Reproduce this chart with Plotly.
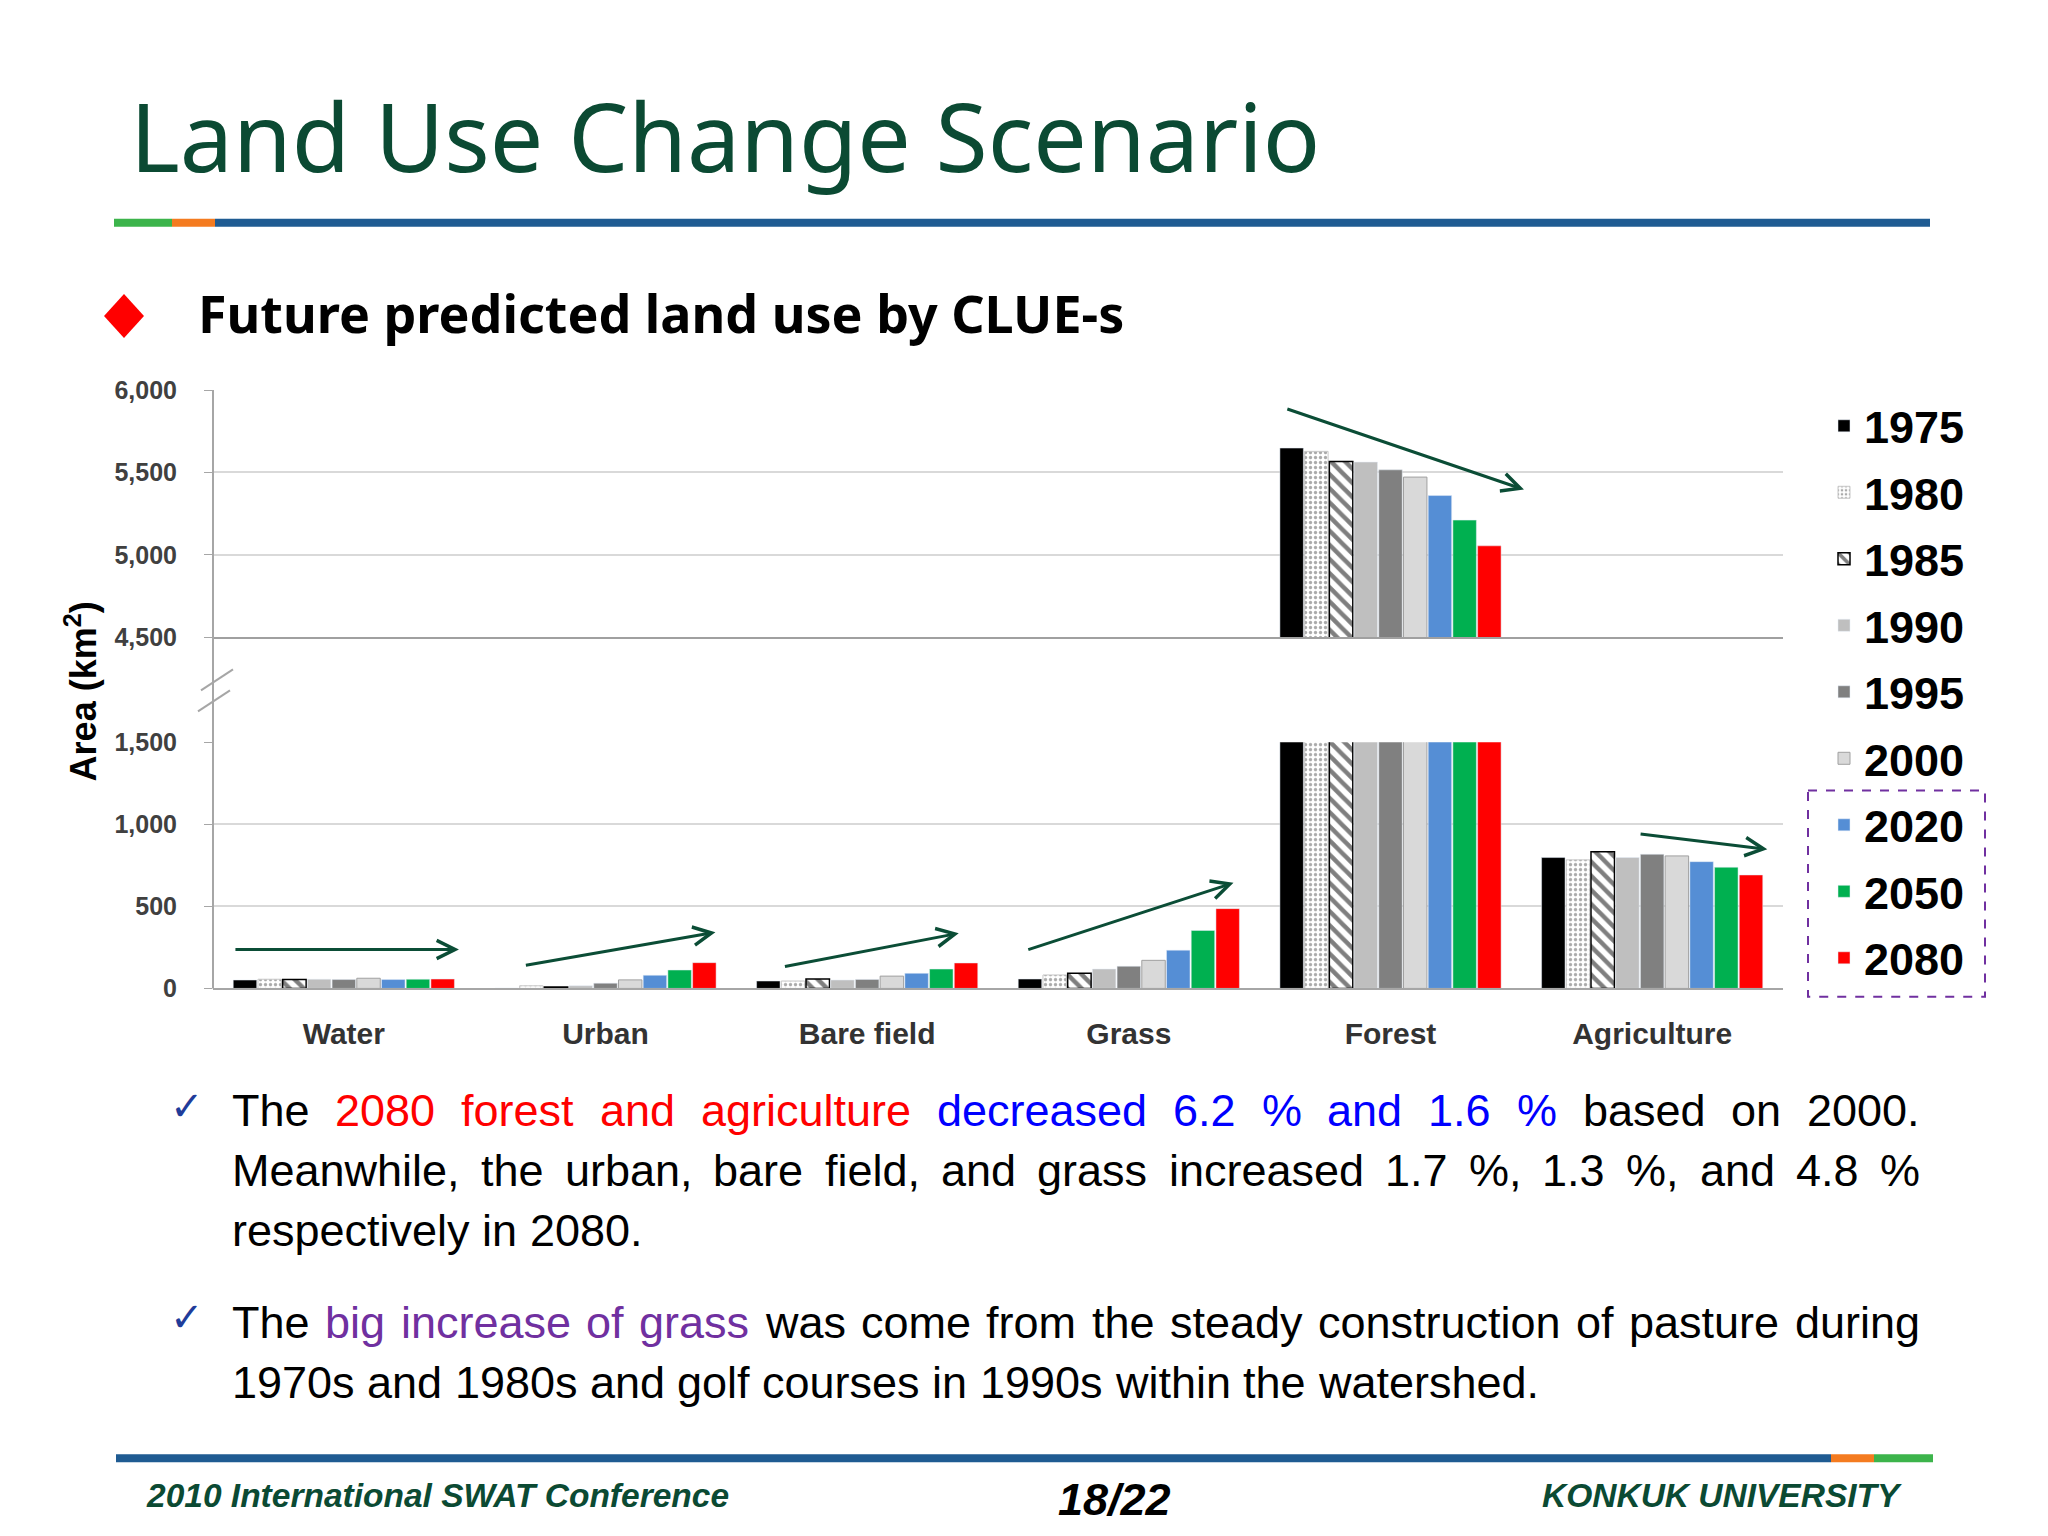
import plotly.graph_objects as go

# ---- data (km2) ----
categories = ["Water", "Urban", "Bare field", "Grass", "Forest", "Agriculture"]
years = ["1975", "1980", "1985", "1990", "1995", "2000", "2020", "2050", "2080"]

area_1975 = [51, 2, 45, 57, 5648, 797]
area_1980 = [56, 16, 45, 82, 5628, 783]
area_1985 = [55, 8, 58, 92, 5567, 833]
area_1990 = [56, 16, 51, 118, 5563, 797]
area_1995 = [54, 32, 55, 135, 5516, 817]
area_2000 = [62, 52, 75, 171, 5472, 807]
area_2020 = [54, 80, 92, 233, 5360, 772]
area_2050 = [56, 112, 118, 353, 5211, 738]
area_2080 = [57, 157, 155, 486, 5055, 691]

lower_ticks = [0, 500, 1000, 1500]
upper_ticks = [4500, 5000, 5500, 6000]

series = [area_1975, area_1980, area_1985, area_1990, area_1995,
          area_2000, area_2020, area_2050, area_2080]

# placement helpers: positions below are given in screenshot pixels,
# corrected for the page offset and the slight vertical squeeze of the shot
LEFT_OFF, TOP_OFF, SQUEEZE = 8, 21.8, 0.9807
W, H = 2032, 1540


def px(x):
    return (x - LEFT_OFF) / W


def py(y):
    return 1 - (y / SQUEEZE - TOP_OFF) / H


styles = {
    "1975": dict(color="#000000"),
    "1980": dict(color="#ffffff", line=dict(color="#c8c8c8", width=1),
                 pattern=dict(shape=".", fgcolor="#555555", bgcolor="#ffffff",
                              size=5, solidity=0.35)),
    "1985": dict(color="#ffffff", line=dict(color="#000000", width=1.5),
                 pattern=dict(shape="\\", fgcolor="#000000", bgcolor="#ffffff", size=10, solidity=0.45)),
    "1990": dict(color="#bfbfbf"),
    "1995": dict(color="#808080"),
    "2000": dict(color="#d9d9d9", line=dict(color="#a0a0a0", width=1)),
    "2020": dict(color="#558ed5"),
    "2050": dict(color="#00b050"),
    "2080": dict(color="#ff0000"),
}

fig = go.Figure()
for yr, vals in zip(years, series):
    # lower part of the broken axis, then the upper part
    fig.add_bar(x=categories, y=vals, name=yr, xaxis="x", yaxis="y",
                marker=styles[yr], legendgroup=yr, showlegend=True)
    fig.add_bar(x=categories, y=vals, name=yr, xaxis="x2", yaxis="y2",
                marker=styles[yr], legendgroup=yr, showlegend=False)

FONT = "Liberation Sans, Arial, sans-serif"
HEAD = "Noto Sans, DejaVu Sans, sans-serif"
GREEN = "#0b4a33"

x_dom = [px(213), px(1783)]
axis_common = dict(showgrid=True, gridcolor="#d9d9d9", gridwidth=2, zeroline=False,
                   tickformat=",", ticks="outside", ticklen=8, tickcolor="#a6a6a6",
                   tickfont=dict(family=FONT, size=25, color="#404040", weight="bold"),
                   ticklabelstandoff=22, fixedrange=True)

fig.update_layout(
    width=W, height=H, margin=dict(l=0, r=0, t=0, b=0),
    paper_bgcolor="white", plot_bgcolor="white",
    barmode="group", bargap=0.15, bargroupgap=0.05,
    xaxis=dict(domain=x_dom, anchor="y", showline=True, linecolor="#a6a6a6", linewidth=2,
               ticks="", ticklabelstandoff=18, fixedrange=True,
               tickfont=dict(family=FONT, size=30, color="#333333", weight="bold")),
    xaxis2=dict(domain=x_dom, anchor="y2", matches="x", showticklabels=False,
                showline=True, linecolor="#a0a0a0", linewidth=2, fixedrange=True),
    yaxis=dict(domain=[py(986.7), py(740.7)], range=[0, 1500], tickvals=lower_ticks,
               anchor="x", **axis_common),
    yaxis2=dict(domain=[py(636), py(389)], range=[4500, 6000], tickvals=upper_ticks,
                anchor="x2", **axis_common),
    legend=dict(x=px(1824), y=py(389), xanchor="left", yanchor="top",
                font=dict(family=FONT, size=45, color="#000000", weight="bold"),
                tracegroupgap=5, bgcolor="rgba(0,0,0,0)", itemclick=False,
                itemdoubleclick=False),
    showlegend=True,
)

shapes = []


def hline(x0, x1, y, color, width):
    shapes.append(dict(type="line", xref="paper", yref="paper", x0=px(x0), x1=px(x1),
                       y0=py(y), y1=py(y), line=dict(color=color, width=width)))


# header and footer rules
hline(114, 172, 222, "#3cb44b", 8)
hline(172, 215, 222, "#f47b20", 8)
hline(215, 1930, 222, "#1f5b92", 8)
hline(116, 1831, 1456, "#1f5b92", 8)
hline(1831, 1874, 1456, "#f47b20", 8)
hline(1874, 1933, 1456, "#3cb44b", 8)

# red bullet diamond
cx, cy = 124, 315
shapes.append(dict(type="path", xref="paper", yref="paper",
                   path=f"M {px(cx)},{py(cy - 22)} L {px(cx + 20)},{py(cy)} "
                        f"L {px(cx)},{py(cy + 22)} L {px(cx - 20)},{py(cy)} Z",
                   fillcolor="#ff0000", line=dict(width=0)))

# continuous left axis line and break marks
shapes.append(dict(type="line", xref="paper", yref="paper", x0=px(213), x1=px(213),
                   y0=py(389), y1=py(986.7), line=dict(color="#a6a6a6", width=2)))
for (a, b, c, d) in [(201, 689, 233, 668), (198, 710, 230, 689)]:
    shapes.append(dict(type="line", xref="paper", yref="paper", x0=px(a), y0=py(b),
                       x1=px(c), y1=py(d), line=dict(color="#a6a6a6", width=2)))

# dashed box around the scenario years
shapes.append(dict(type="rect", xref="paper", yref="paper", x0=px(1808), x1=px(1985),
                   y0=py(789), y1=py(995), line=dict(color="#7030a0", width=2, dash="dash")))

annotations = []


def text(x, y, s, size, color="#000000", family=FONT, weight="normal", style="normal",
         xanchor="left", angle=0):
    annotations.append(dict(xref="paper", yref="paper", x=px(x), y=py(y), text=s,
                            showarrow=False, xanchor=xanchor, yanchor="middle",
                            textangle=angle,
                            font=dict(family=family, size=size, color=color,
                                      weight=weight, style=style)))


text(128, 134, "Land Use Change Scenario", 95, GREEN, HEAD)
text(196, 312, "Future predicted land use by CLUE-s", 52, "#000000", HEAD, "bold")
text(81, 690, "Area (km<sup>2</sup>)", 36, "#000000", FONT, "bold", angle=-90, xanchor="center")

# trend arrows (tail -> head, in data units)
ARROW = "#0b4d36"
arrows = [
    ("y", -0.42, 237, 0.44, 237),
    ("y", 0.69, 140, 1.42, 342),
    ("y", 1.68, 132, 2.35, 336),
    ("y", 2.61, 233, 3.40, 643),
    ("y2", 3.60, 5888, 4.51, 5396),
    ("y", 4.95, 941, 5.44, 847),
]
for ya, x0, y0, x1, y1 in arrows:
    xa = "x" if ya == "y" else "x2"
    annotations.append(dict(xref=xa, yref=ya, axref=xa, ayref=ya, x=x1, y=y1, ax=x0, ay=y0,
                            text="", showarrow=True, arrowhead=5, arrowsize=1.2,
                            arrowwidth=3, arrowcolor=ARROW, standoff=0, startstandoff=0))

# justified body text (Arial metrics)
adv = {' ': 278, 'a': 556, 'b': 556, 'c': 500, 'd': 556, 'e': 556, 'f': 278, 'g': 556, 'h': 556,
       'i': 222, 'j': 222, 'k': 500, 'l': 222, 'm': 833, 'n': 556, 'o': 556, 'p': 556, 'q': 556,
       'r': 333, 's': 500, 't': 278, 'u': 556, 'v': 500, 'w': 722, 'x': 500, 'y': 500, 'z': 500,
       'T': 611, 'M': 833, '.': 278, ',': 278, '%': 889}
BODY = 45
LEFT, RIGHT = 230, 1918


def wwidth(w):
    return sum(adv.get(ch, 556) for ch in w) * BODY / 1000


RED, BLUE, PURPLE = "#ff0000", "#0000ff", "#7030a0"
lines = [
    (1109, True, [("The", None), ("2080 forest and agriculture", RED),
                  ("decreased 6.2 % and 1.6 %", BLUE), ("based on 2000.", None)]),
    (1169, True, [("Meanwhile, the urban, bare field, and grass increased 1.7 %, 1.3 %, and 4.8 %", None)]),
    (1229, False, [("respectively in 2080.", None)]),
    (1320, True, [("The", None), ("big increase of grass", PURPLE),
                  ("was come from the steady construction of pasture during", None)]),
    (1380, False, [("1970s and 1980s and golf courses in 1990s within the watershed.", None)]),
]
for yline, justify, parts in lines:
    words = [(w, c or "#000000") for seg, c in parts for w in seg.split(" ")]
    total = sum(wwidth(w) for w, _ in words)
    gap = (RIGHT - LEFT - total) / (len(words) - 1) if justify else wwidth(" ")
    xpos = LEFT
    for w, c in words:
        text(xpos, yline, w, BODY, c)
        xpos += wwidth(w) + gap

for ycheck in (1104, 1315):
    text(187, ycheck, "✓", 40, "#1f3c9a", "DejaVu Sans", xanchor="center")

# footer
text(144, 1493, "2010 International SWAT Conference", 33.5, GREEN, FONT, "bold", "italic")
text(1114, 1497, "18/22", 45, "#000000", FONT, "bold", "italic", xanchor="center")
text(1904, 1493, "KONKUK UNIVERSITY", 33.5, GREEN, FONT, "bold", "italic", xanchor="right")

fig.update_layout(shapes=shapes, annotations=annotations)
fig.write_html("out.html")
